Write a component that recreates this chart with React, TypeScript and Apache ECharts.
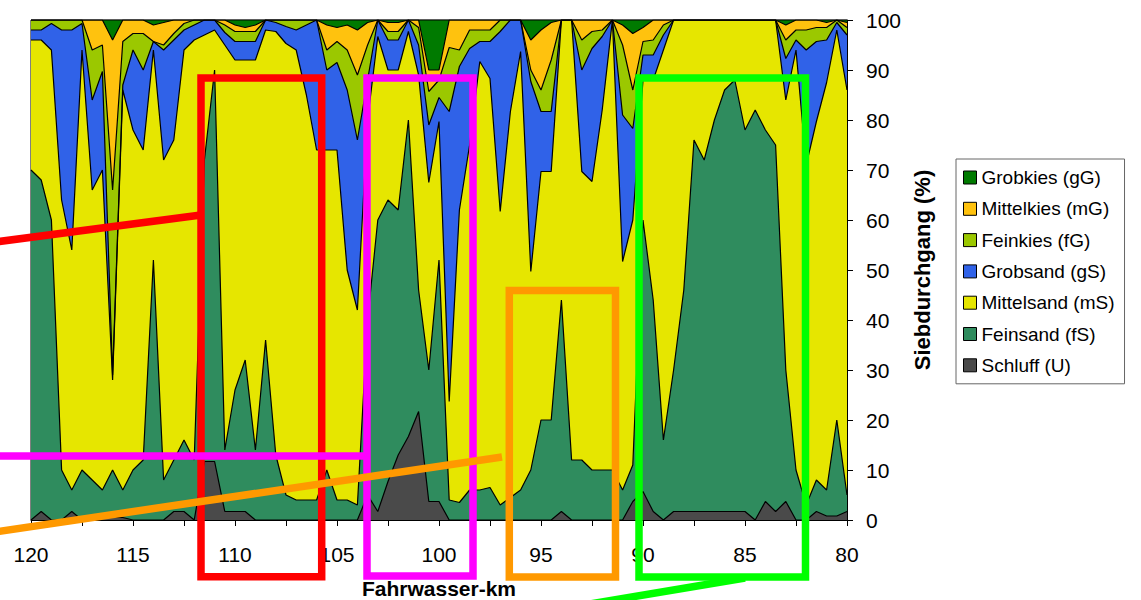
import React, { useEffect, useRef } from "react";
import * as echarts from "echarts";

// Fahrwasser-km sample positions
const KM = [
  120, 119.5, 119, 118.5, 118, 117.5, 117, 116.5, 116, 115.5,
  115, 114.5, 114, 113.5, 113, 112.5, 112, 111.5, 111, 110.5,
  110, 109.5, 109, 108.5, 108, 107.5, 107, 106.5, 106, 105.5,
  105, 104.5, 104, 103.5, 103, 102.5, 102, 101.5, 101, 100.5,
  100, 99.5, 99, 98.5, 98, 97.5, 97, 96.5, 96, 95.5,
  95, 94.5, 94, 93.5, 93, 92.5, 92, 91.5, 91, 90.5,
  90, 89.5, 89, 88.5, 88, 87.5, 87, 86.5, 86, 85.5,
  85, 84.5, 84, 83.5, 83, 82.5, 82, 81.5, 81, 80.5,
  80,
];

// cumulative Siebdurchgang (%) at the upper limit of each fraction
const SCHLUFF = [
  0, 1.7, 0, 0, 1.7, 0, 0, 1, 0.5, 0.5,
  0, 0, 0, 0, 1.7, 1.7, 0, 11.7, 11.7, 1.7,
  1.7, 1.7, 0, 0, 0, 0, 0, 0, 0, 0,
  0, 0, 0, 5, 1.7, 7.7, 13, 16.7, 21.7, 3.7,
  3.7, 0, 0, 0, 0, 0, 0, 0, 0, 0,
  0, 0, 1.7, 0, 0, 0, 0, 0, 0, 3.7,
  5.7, 1.7, 0, 1.7, 1.7, 1.7, 1.7, 1.7, 1.7, 1.7,
  1.7, 0, 3.7, 1.7, 3.7, 0, 0, 1.7, 0.8, 0.8,
  1.7,
];
const FEINSAND = [
  70, 68, 60, 10, 6, 10, 8, 6, 10, 6,
  10, 12, 52, 8, 12, 16, 12, 72, 90, 14,
  26, 32, 14, 36, 13, 5, 4, 4, 4, 10,
  4, 4, 3, 40, 60, 64, 62, 80, 46, 30,
  52, 4, 3.5, 6, 6, 6.5, 3, 4.5, 6, 10,
  20, 20, 44, 12, 12, 10, 10, 10, 6, 11,
  60, 44, 16, 30, 46, 76, 72, 80, 86, 88,
  78, 82, 78, 75, 30, 10, 3, 8, 6, 20,
  5,
];
const MITTELSAND = [
  96, 96, 94, 64, 54, 94, 66, 70, 28, 86,
  78, 74, 94, 72, 76, 94, 96, 97, 98, 95,
  92, 92, 92, 98, 97.7, 95.3, 94, 85, 74, 74,
  74, 50, 42, 80, 96.7, 90, 90, 97.7, 89, 67.5,
  79.7, 23.7, 62, 75, 91.7, 88.3, 61.7, 81.7, 93.7, 49.7,
  69.7, 69.7, 100, 100, 69.7, 67.7, 82, 100, 51.7, 60,
  88, 88, 94, 100, 100, 100, 100, 100, 100, 100,
  100, 100, 100, 100, 84, 94, 71, 79.7, 87.5, 98,
  86,
];
const GROBSAND = [
  98, 98, 99.3, 98, 98, 99.3, 84, 89.7, 29, 87,
  94, 90, 95.7, 94, 96, 98, 99, 100, 100, 97.5,
  95.7, 95.7, 95.7, 100, 99.5, 98.7, 98, 99, 100, 90,
  91.5, 86, 76, 88, 100, 96, 96, 100, 95, 79,
  84.5, 81.7, 90.7, 94.3, 95.7, 95.7, 97.7, 100, 100, 87.7,
  81.7, 81.7, 100, 100, 90, 94.3, 96.7, 100, 81, 78.3,
  93, 93, 97, 100, 100, 100, 100, 100, 100, 100,
  100, 100, 100, 100, 92.3, 96, 94, 95.7, 96, 99.5,
  97,
];
const FEINKIES = [
  100, 100, 100, 100, 100, 100, 94, 95, 66, 95.7,
  97.3, 97.3, 95.7, 95, 97.3, 99.3, 100, 100, 100, 99,
  97.7, 97.7, 97.7, 100, 100, 100, 100, 100, 100, 94,
  95.7, 94, 89, 95, 100, 97.7, 97.7, 100, 98.5, 85.7,
  88, 94.5, 94, 98, 98, 98, 100, 100, 100, 90,
  86, 92, 100, 100, 96, 97.7, 98, 100, 95, 86,
  95.7, 96, 99, 100, 100, 100, 100, 100, 100, 100,
  100, 100, 100, 100, 96, 98, 98, 98.5, 98.5, 100,
  98.5,
];
const MITTELKIES = [
  100, 100, 100, 100, 100, 100, 100, 100, 96, 100,
  100, 100, 99, 99.5, 100, 100, 100, 100, 100, 100,
  99, 98.5, 99, 100, 100, 100, 100, 100, 100, 99,
  98.5, 99, 98, 99.5, 100, 99.5, 99.5, 100, 100, 90,
  90, 100, 100, 100, 100, 100, 100, 100, 100, 96,
  98, 99.5, 100, 100, 100, 100, 100, 100, 99, 97.3,
  98.5, 100, 100, 100, 100, 100, 100, 100, 100, 100,
  100, 100, 100, 100, 99, 100, 100, 100, 99.5, 100,
  99.5,
];
const GROBKIES_TOTAL = 100;

const Y_TICKS = { min: 0, max: 100, step: 10 };
const X_TICKS = { min: 80, max: 120, step: 2.5, labelStep: 5 };

const NAMES = [
  "Grobkies (gG)",
  "Mittelkies (mG)",
  "Feinkies (fG)",
  "Grobsand (gS)",
  "Mittelsand (mS)",
  "Feinsand (fS)",
  "Schluff (U)",
];
const COLORS = ["#007A00", "#FFC20E", "#9BC800", "#3062E8", "#E6E600", "#2F8C5E", "#4A4A4A"];
const FONT = "'Liberation Sans', Arial, sans-serif";

export default function App() {
  const ref = useRef<HTMLDivElement>(null);
  useEffect(() => {
    document.body.style.margin = "0";
    const chart = echarts.init(ref.current!, null, { renderer: "svg" });
    const cumulative = [
      KM.map(() => GROBKIES_TOTAL),
      MITTELKIES,
      FEINKIES,
      GROBSAND,
      MITTELSAND,
      FEINSAND,
      SCHLUFF,
    ];
    const series = cumulative.map((arr, si) => ({
      name: NAMES[si],
      type: "line",
      data: KM.map((k, i) => [k, arr[i]]),
      symbol: "none",
      showSymbol: false,
      silent: true,
      itemStyle: { color: COLORS[si] },
      lineStyle: { color: "#000", width: 1.2 },
      areaStyle: { color: COLORS[si], opacity: 1 },
      z: 2,
    }));
    const W = 7.5;
    const box = (x: number, y: number, w: number, h: number, c: string) => ({
      type: "rect",
      z: 100,
      shape: { x, y, width: w, height: h },
      style: { fill: "none", stroke: c, lineWidth: W },
    });
    const seg = (x1: number, y1: number, x2: number, y2: number, c: string) => ({
      type: "line",
      z: 100,
      shape: { x1, y1, x2, y2 },
      style: { stroke: c, lineWidth: W },
    });
    chart.setOption({
      animation: false,
      textStyle: { fontFamily: FONT },
      grid: {
        left: 31,
        right: 294,
        top: 20,
        bottom: 80,
        show: true,
        borderColor: "#000",
        borderWidth: 1,
        containLabel: false,
        outerBoundsMode: "none",
      },
      legend: {
        orient: "vertical",
        left: 956,
        top: 159,
        icon: "rect",
        itemWidth: 13,
        itemHeight: 13,
        itemGap: 10.3,
        padding: [8, 10, 8, 7],
        borderColor: "#666",
        borderWidth: 1,
        backgroundColor: "#fff",
        itemStyle: { borderColor: "#000", borderWidth: 1 },
        textStyle: { fontSize: 19, color: "#000", fontFamily: FONT, lineHeight: 21 },
        data: NAMES,
      },
      xAxis: {
        type: "value",
        min: X_TICKS.min,
        max: X_TICKS.max,
        interval: X_TICKS.step,
        inverse: true,
        axisLine: { show: true, lineStyle: { color: "#000", width: 1 } },
        axisTick: { show: true, length: 6, lineStyle: { color: "#000" } },
        splitLine: { show: false },
        axisLabel: {
          fontSize: 21,
          color: "#000",
          margin: 24,
          fontFamily: FONT,
          formatter: (v: number) => (v % X_TICKS.labelStep === 0 ? String(v) : ""),
        },
        name: "Fahrwasser-km",
        nameLocation: "middle",
        nameGap: 58,
        nameTextStyle: { fontSize: 21, lineHeight: 21, fontWeight: "bold", color: "#000", fontFamily: FONT },
      },
      yAxis: {
        type: "value",
        position: "right",
        min: Y_TICKS.min,
        max: Y_TICKS.max,
        interval: Y_TICKS.step,
        axisLine: { show: true, lineStyle: { color: "#000", width: 1 } },
        axisTick: { show: true, length: 6, lineStyle: { color: "#000" } },
        splitLine: { show: false },
        axisLabel: { fontSize: 21, color: "#000", margin: 19, fontFamily: FONT },
        name: "Siebdurchgang (%)",
        nameLocation: "middle",
        nameRotate: 90,
        nameGap: 63,
        nameTextStyle: { fontSize: 22, fontWeight: "bold", color: "#000", fontFamily: FONT },
      },
      series,
      graphic: [
        box(201, 78, 120.7, 498.7, "#FF0000"),
        seg(-5, 242, 201, 215, "#FF0000"),
        box(367, 78, 106, 498, "#FF00FF"),
        seg(-5, 456, 367, 456, "#FF00FF"),
        box(509.3, 290.5, 106.2, 286.5, "#FF9900"),
        seg(-5, 532, 502, 457, "#FF9900"),
        box(639, 78, 166.5, 499, "#00FF00"),
        seg(745, 578, 560, 609, "#00FF00"),
      ],
    });
    return () => chart.dispose();
  }, []);
  return <div ref={ref} style={{ width: 1141, height: 600, position: "absolute", left: 0, top: 0 }} />;
}
